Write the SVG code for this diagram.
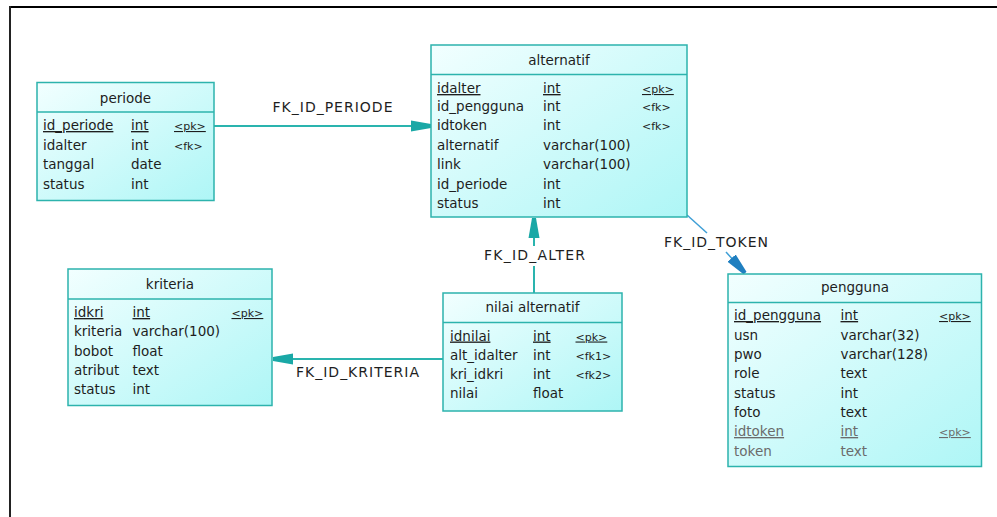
<svg xmlns="http://www.w3.org/2000/svg" width="997" height="517" viewBox="0 0 997 517">
<style>
.box{fill:url(#g);stroke:#2db3ad;stroke-width:1.5}
.div{stroke:#2db3ad;stroke-width:1.5}
text{font-family:"DejaVu Sans","Liberation Sans",sans-serif;fill:#1e1e1e}
.t{font-size:13.5px;text-anchor:middle}
.r{font-size:13.5px}
.k{font-size:11px}
.u{text-decoration:underline}
.gr{fill:#6b6b6b}
.lbl{font-size:14px}
.con{stroke:#2ab4ae;stroke-width:2;fill:none}
.tok{stroke:#3f9fd6;stroke-width:1.5;fill:none}
</style>
<defs>
<linearGradient id="g" x1="0" y1="0" x2="1" y2="1">
<stop offset="0" stop-color="#f2ffff"/>
<stop offset="1" stop-color="#aef6f6"/>
</linearGradient>
<marker id="a" viewBox="0 -6 21 12" refX="20" refY="0" markerWidth="21" markerHeight="12" markerUnits="userSpaceOnUse" orient="auto">
<path d="M0,-5.5 L20,-2 L20,2 L0,5.5 Z" fill="#1aa8a6"/>
</marker>
<marker id="b" viewBox="0 -6 21 12" refX="20" refY="0" markerWidth="21" markerHeight="12" markerUnits="userSpaceOnUse" orient="auto">
<path d="M0,-5.5 L20,-2 L20,2 L0,5.5 Z" fill="#1f7fc0"/>
</marker>
</defs>
<rect width="997" height="517" fill="#ffffff"/>
<g id="frame">
<line x1="9" y1="7" x2="997" y2="7" stroke="#000" stroke-width="2"/>
<line x1="10" y1="6" x2="10" y2="517" stroke="#222" stroke-width="2"/>
</g>
<g id="connectors">
<line class="con" x1="214" y1="126" x2="431" y2="126" marker-end="url(#a)"/>
<text class="lbl" x="272.5" y="112" textLength="120" lengthAdjust="spacing">FK_ID_PERIODE</text>
<line class="con" x1="443" y1="359" x2="273" y2="359" marker-end="url(#a)"/>
<text class="lbl" x="296" y="377" textLength="123" lengthAdjust="spacing">FK_ID_KRITERIA</text>
<line class="con" x1="534" y1="293" x2="534" y2="266"/>
<line class="con" x1="534" y1="246" x2="534" y2="218" marker-end="url(#a)"/>
<text class="lbl" x="484" y="260" textLength="101" lengthAdjust="spacing">FK_ID_ALTER</text>
<line class="tok" x1="687" y1="215" x2="707" y2="233"/>
<line class="tok" x1="726" y1="252" x2="745" y2="273" marker-end="url(#b)"/>
<text class="lbl" x="664" y="247" textLength="104" lengthAdjust="spacing">FK_ID_TOKEN</text>
</g>
<g id="periode">
<rect class="box" x="37" y="82.5" width="177" height="118"/>
<line class="div" x1="37" y1="112" x2="214" y2="112"/>
<text class="t" x="125.5" y="103">periode</text>
<text class="r u" x="43" y="130">id_periode</text><text class="r u" x="131" y="130">int</text><text class="k u" x="174" y="130">&lt;pk&gt;</text>
<text class="r" x="43" y="149.5">idalter</text><text class="r" x="131" y="149.5">int</text><text class="k" x="174" y="149.5">&lt;fk&gt;</text>
<text class="r" x="43" y="169">tanggal</text><text class="r" x="131" y="169">date</text>
<text class="r" x="43" y="188.5">status</text><text class="r" x="131" y="188.5">int</text>
</g>
<g id="alternatif">
<rect class="box" x="431" y="45" width="256" height="172"/>
<line class="div" x1="431" y1="74.5" x2="687" y2="74.5"/>
<text class="t" x="559" y="64.5">alternatif</text>
<text class="r u" x="437" y="93">idalter</text><text class="r u" x="543" y="93">int</text><text class="k u" x="642" y="93">&lt;pk&gt;</text>
<text class="r" x="437" y="110.5">id_pengguna</text><text class="r" x="543" y="110.5">int</text><text class="k" x="642" y="110.5">&lt;fk&gt;</text>
<text class="r" x="437" y="130">idtoken</text><text class="r" x="543" y="130">int</text><text class="k" x="642" y="130">&lt;fk&gt;</text>
<text class="r" x="437" y="149.5">alternatif</text><text class="r" x="543" y="149.5">varchar(100)</text>
<text class="r" x="437" y="169">link</text><text class="r" x="543" y="169">varchar(100)</text>
<text class="r" x="437" y="188.5">id_periode</text><text class="r" x="543" y="188.5">int</text>
<text class="r" x="437" y="208">status</text><text class="r" x="543" y="208">int</text>
</g>
<g id="kriteria">
<rect class="box" x="68" y="269" width="204" height="136.5"/>
<line class="div" x1="68" y1="299" x2="272" y2="299"/>
<text class="t" x="170" y="289">kriteria</text>
<text class="r u" x="74" y="317">idkri</text><text class="r u" x="132.5" y="317">int</text><text class="k u" x="231.5" y="317">&lt;pk&gt;</text>
<text class="r" x="74" y="336">kriteria</text><text class="r" x="132.5" y="336">varchar(100)</text>
<text class="r" x="74" y="355.5">bobot</text><text class="r" x="132.5" y="355.5">float</text>
<text class="r" x="74" y="374.5">atribut</text><text class="r" x="132.5" y="374.5">text</text>
<text class="r" x="74" y="393.5">status</text><text class="r" x="132.5" y="393.5">int</text>
</g>
<g id="nilai_alternatif">
<rect class="box" x="443" y="293" width="179" height="118"/>
<line class="div" x1="443" y1="322.5" x2="622" y2="322.5"/>
<text class="t" x="532.5" y="312">nilai alternatif</text>
<text class="r u" x="450" y="340.5">idnilai</text><text class="r u" x="533" y="340.5">int</text><text class="k u" x="575.5" y="340.5">&lt;pk&gt;</text>
<text class="r" x="450" y="359.5">alt_idalter</text><text class="r" x="533" y="359.5">int</text><text class="k" x="575.5" y="359.5">&lt;fk1&gt;</text>
<text class="r" x="450" y="378.5">kri_idkri</text><text class="r" x="533" y="378.5">int</text><text class="k" x="575.5" y="378.5">&lt;fk2&gt;</text>
<text class="r" x="450" y="398">nilai</text><text class="r" x="533" y="398">float</text>
</g>
<g id="pengguna">
<rect class="box" x="728" y="274" width="253.5" height="192.5"/>
<line class="div" x1="728" y1="302.5" x2="981.5" y2="302.5"/>
<text class="t" x="855" y="292">pengguna</text>
<text class="r u" x="734" y="320">id_pengguna</text><text class="r u" x="840.5" y="320">int</text><text class="k u" x="939" y="320">&lt;pk&gt;</text>
<text class="r" x="734" y="339.5">usn</text><text class="r" x="840.5" y="339.5">varchar(32)</text>
<text class="r" x="734" y="358.5">pwo</text><text class="r" x="840.5" y="358.5">varchar(128)</text>
<text class="r" x="734" y="378">role</text><text class="r" x="840.5" y="378">text</text>
<text class="r" x="734" y="397.5">status</text><text class="r" x="840.5" y="397.5">int</text>
<text class="r" x="734" y="417">foto</text><text class="r" x="840.5" y="417">text</text>
<text class="r u gr" x="734" y="436">idtoken</text><text class="r u gr" x="840.5" y="436">int</text><text class="k u gr" x="939" y="436">&lt;pk&gt;</text>
<text class="r gr" x="734" y="455.5">token</text><text class="r gr" x="840.5" y="455.5">text</text>
</g>
</svg>
